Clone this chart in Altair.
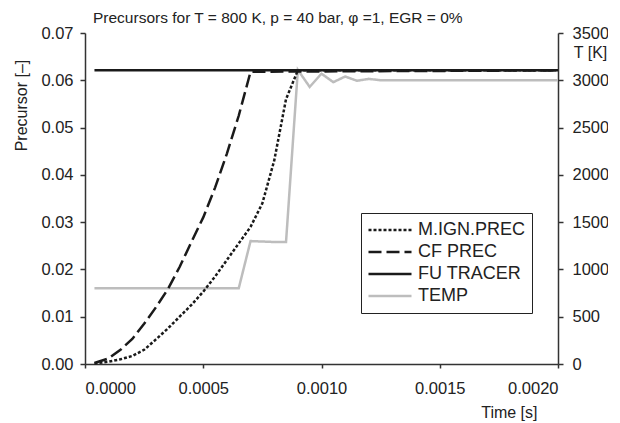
import altair as alt
import pandas as pd

# ---- data ----
series_names = ["M.IGN.PREC", "CF PREC", "FU TRACER", "TEMP"]

mign_t = [0.00004, 0.0001, 0.00015, 0.0002, 0.00025, 0.0003, 0.00035, 0.0004, 0.00045,
          0.0005, 0.00055, 0.0006, 0.00065, 0.0007, 0.00075, 0.0008, 0.00085, 0.0009, 0.002]
mign_v = [0.0001, 0.0005, 0.0010, 0.0017, 0.0030, 0.0052, 0.0075, 0.0100, 0.0125,
          0.0153, 0.0185, 0.0220, 0.0255, 0.0290, 0.0340, 0.0430, 0.0560, 0.0621, 0.0621]

cf_t = [0.00004, 0.0001, 0.00015, 0.0002, 0.00025, 0.0003, 0.00035, 0.0004, 0.00045,
        0.0005, 0.00055, 0.0006, 0.00065, 0.0007, 0.002]
cf_v = [0.0002, 0.0012, 0.0030, 0.0053, 0.0085, 0.0120, 0.0158, 0.0205, 0.0258,
        0.0310, 0.0373, 0.0445, 0.0525, 0.0618, 0.0621]

fu_t = [0.00004, 0.002]
fu_v = [0.0621, 0.0621]

temp_t = [0.00004, 0.00065, 0.0007, 0.00075, 0.0008, 0.00085, 0.0009, 0.00095, 0.001,
          0.00105, 0.0011, 0.00115, 0.0012, 0.00125, 0.002]
temp_v = [800, 800, 1300, 1295, 1290, 1290, 3110, 2930, 3070, 2980, 3040, 2995, 3015, 3000, 3000]

x_ticks = [0.0, 0.0005, 0.001, 0.0015, 0.002]
y_ticks = [0.0, 0.01, 0.02, 0.03, 0.04, 0.05, 0.06, 0.07]
t_ticks = [0, 500, 1000, 1500, 2000, 2500, 3000, 3500]

colors = ["#1a1a1a", "#1a1a1a", "#1a1a1a", "#bdbdbd"]
dashes = [[3, 2], [13, 5], [1, 0], [1, 0]]
widths = [2.5, 2.5, 1.6, 2.0]

prec = pd.concat([
    pd.DataFrame({"t": fu_t, "v": fu_v, "series": "FU TRACER", "o": 0}),
    pd.DataFrame({"t": cf_t, "v": cf_v, "series": "CF PREC", "o": 1}),
    pd.DataFrame({"t": mign_t, "v": mign_v, "series": "M.IGN.PREC", "o": 2}),
])
temp = pd.DataFrame({"t": temp_t, "v": temp_v, "series": "TEMP"})

FONT = "Liberation Sans"
TXT = "#222222"


def make_legend():
    return alt.Legend(title=None, orient="none", legendX=276, legendY=180,
                      symbolType="stroke", symbolSize=1850,
                      symbolStrokeWidth=2.2, labelFontSize=18,
                      labelFont=FONT, labelColor=TXT,
                      strokeColor="#222222", padding=6,
                      clipHeight=22, rowPadding=0, labelOffset=5)


color_enc = alt.Color("series:N", scale=alt.Scale(domain=series_names, range=colors),
                      legend=make_legend())
dash_enc = alt.StrokeDash("series:N", scale=alt.Scale(domain=series_names, range=dashes),
                          legend=make_legend())
width_enc = alt.StrokeWidth("series:N", scale=alt.Scale(domain=series_names, range=widths),
                            legend=None)

x_enc = alt.X("t:Q", scale=alt.Scale(domain=[0, 0.002], nice=False),
              axis=alt.Axis(values=x_ticks, format=".4f", title="Time [s]",
                            titleAlign="right", titleX=452, titleY=53,
                            titleBaseline="alphabetic", labelPadding=12, tickSize=4,
                            grid=False))

prec_layer = alt.Chart(prec).mark_line().encode(
    x=x_enc,
    y=alt.Y("v:Q", scale=alt.Scale(domain=[0, 0.07], nice=False),
            axis=alt.Axis(orient="left", values=y_ticks, format=".2f", title="Precursor [–]",
                          titleX=-64, titleY=72, titleAngle=-90, titleAlign="center",
                          titleBaseline="middle", labelPadding=7, tickSize=5,
                          grid=False)),
    color=color_enc,
    strokeDash=dash_enc,
    strokeWidth=width_enc,
    order="o:Q",
    detail="series:N",
)

temp_layer = alt.Chart(temp).mark_line().encode(
    x=x_enc,
    y=alt.Y("v:Q", scale=alt.Scale(domain=[0, 3500], nice=False),
            axis=alt.Axis(orient="right", values=t_ticks, format="d", title="T [K]",
                          titleAngle=0, titleX=32, titleY=19, titleAlign="center",
                          titleBaseline="middle", labelPadding=9, tickSize=5,
                          grid=False)),
    color=color_enc,
    strokeDash=dash_enc,
    strokeWidth=width_enc,
)

chart = alt.layer(temp_layer, prec_layer).resolve_scale(y="independent").properties(
    width=473, height=331,
    background="white",
    autosize=alt.AutoSizeParams(type="none"),
    padding={"left": 77, "top": 25, "right": 50, "bottom": 58},
    title=alt.Title("Precursors for T = 800 K, p = 40 bar, φ =1, EGR = 0%",
                    anchor="start", frame="group", dx=8, dy=9, offset=8,
                    fontSize=15.5, fontWeight="normal", font=FONT, color=TXT),
).configure_view(stroke=None).configure_axis(
    labelFont=FONT, titleFont=FONT, labelFontSize=16.5, titleFontSize=16,
    labelColor=TXT, titleColor=TXT, titleFontWeight="normal",
    domainColor="#333333", tickColor="#333333", domainWidth=1.5, tickWidth=1.5,
)

chart.save("out.html", embed_options={"renderer": "svg", "actions": False})
